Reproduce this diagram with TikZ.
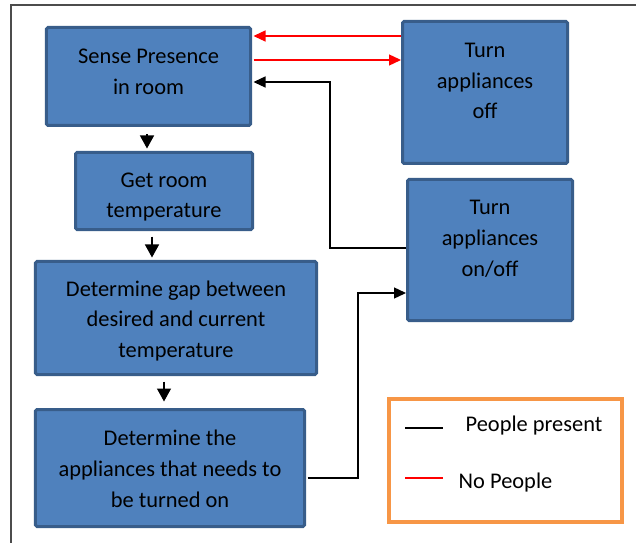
\documentclass[tikz,border=0pt]{standalone}
\usepackage{fontspec}
\setmainfont{Carlito}
\usetikzlibrary{arrows.meta}
\definecolor{boxfill}{RGB}{79,129,189}
\definecolor{boxedge}{RGB}{56,93,138}
\definecolor{legorange}{RGB}{247,150,70}
\begin{document}
\begin{tikzpicture}[x=1bp,y=-1bp,
  box/.style={draw=boxedge, fill=boxfill, line width=3bp, rounded corners=1.5bp, inner sep=0pt},
  txt/.style={align=center, inner sep=0pt, font=\fontsize{22.5}{31}\selectfont},
  arr/.style={-{Triangle[length=12bp,width=11bp]}, line width=1.3bp},
  darr/.style={-{Triangle[length=13bp,width=14bp]}, line width=1.3bp}]
\useasboundingbox (0,0) rectangle (636,543);
\draw[line width=1.5bp, black!70] (636,5) -- (11,5) -- (11,543);
% boxes
\node[box, minimum width=204bp, minimum height=98bp] (sense) at (148.5,76.5) {};
\node[box, minimum width=165bp, minimum height=142bp] (off) at (485,92.5) {};
\node[box, minimum width=177bp, minimum height=77bp] (get) at (164,191) {};
\node[box, minimum width=165bp, minimum height=141bp] (onoff) at (490,250) {};
\node[box, minimum width=281bp, minimum height=113bp] (gap) at (176,318) {};
\node[box, minimum width=269bp, minimum height=117bp] (det) at (170,468) {};
% texts
\node[txt] (senseT) at (148.5,72) {Sense Presence\\in room};
\node[txt] (offT) at (485,81) {Turn\\appliances\\off};
\node[txt] (getT) at (164,197) {Get room\\temperature};
\node[txt] (onoffT) at (490,239) {Turn\\appliances\\on/off};
\node[txt] (gapT) at (176,321) {Determine gap between\\desired and current\\temperature};
\node[txt] (detT) at (170,469) {Determine the\\appliances that needs to\\be turned on};
% connectors
\draw[arr, red, shorten >=1.5bp] (off.west |- 0,36) -- (sense.east |- 0,36);
\draw[arr, red, shorten <=1.5bp] (sense.east |- 0,60) -- (off.west |- 0,60);
\draw[arr, shorten >=1.5bp] (onoff.west |- 0,248) -| (330,82) -- (sense.east |- 0,82);
\draw[arr, shorten <=1.5bp] (det.east |- 0,478) -| (358,293) -- (onoff.west |- 0,293);
\draw[darr, shorten <=7.5bp, shorten >=2.5bp] (sense.south -| 147,0) -- (get.north -| 147,0);
\draw[darr, shorten <=5.5bp, shorten >=2.5bp] (get.south -| 152,0) -- (gap.north -| 152,0);
\draw[darr, shorten <=5.5bp, shorten >=6.5bp] (gap.south -| 164,0) -- (det.north -| 164,0);
% legend
\node[draw=legorange, line width=4bp, minimum width=233bp, minimum height=123bp, inner sep=0pt] (legend) at (505.5,460.5) {};
\coordinate (l1a) at (405,428);
\coordinate (l1b) at (443,428);
\coordinate (l2a) at (405,478);
\coordinate (l2b) at (443,478);
\draw[line width=1.5bp] (l1a) -- (l1b);
\draw[line width=1.5bp, red] (l2a) -- (l2b);
\node[txt] (pp) at (534,426) {People present};
\node[txt] (np) at (505.5,483) {No People};
\end{tikzpicture}
\end{document}
